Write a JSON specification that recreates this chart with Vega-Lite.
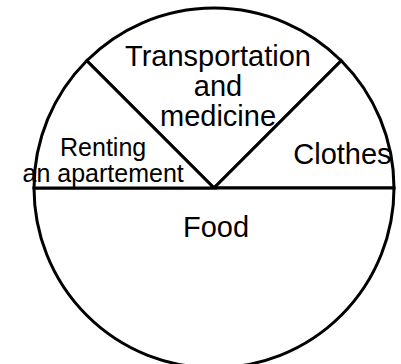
{
  "$schema": "https://vega.github.io/schema/vega-lite/v6.json",
  "width": 428,
  "height": 376,
  "padding": 0,
  "autosize": "none",
  "background": "white",
  "data": {
    "values": [
      {"category": "Transportation and medicine", "label": ["Transportation", "and", "medicine"], "percent": 25, "order": 1},
      {"category": "Clothes", "label": "Clothes", "percent": 12.5, "order": 2},
      {"category": "Food", "label": "Food", "percent": 50, "order": 3},
      {"category": "Renting an apartement", "label": ["Renting", "an apartement"], "percent": 12.5, "order": 4}
    ]
  },
  "encoding": {
    "theta": {"field": "percent", "type": "quantitative", "stack": true, "scale": {"range": [-0.7854, 5.4978]}},
    "order": {"field": "order", "type": "quantitative"}
  },
  "layer": [
    {"mark": {"type": "arc", "radius": 180, "fill": "white", "stroke": "black", "strokeWidth": 3}},
    {
      "mark": {"type": "text", "radius": 101, "dx": 4, "dy": -30, "fontSize": 29, "lineHeight": 30, "font": "Liberation Sans", "baseline": "middle", "align": "center", "color": "black"},
      "encoding": {"text": {"condition": {"test": "datum.category === 'Transportation and medicine'", "field": "label"}, "value": ""}}
    },
    {
      "mark": {"type": "text", "radius": 139, "dx": 0, "dy": 20, "fontSize": 29, "font": "Liberation Sans", "baseline": "middle", "align": "center", "color": "black"},
      "encoding": {"text": {"condition": {"test": "datum.category === 'Clothes'", "field": "label"}, "value": ""}}
    },
    {
      "mark": {"type": "text", "radius": 120, "dy": 6, "fontSize": 25, "lineHeight": 26, "font": "Liberation Sans", "baseline": "middle", "align": "center", "color": "black"},
      "encoding": {"text": {"condition": {"test": "datum.category === 'Renting an apartement'", "field": "label"}, "value": ""}}
    },
    {
      "mark": {"type": "text", "radius": 40, "dx": 2, "fontSize": 29, "font": "Liberation Sans", "baseline": "middle", "align": "center", "color": "black"},
      "encoding": {"text": {"condition": {"test": "datum.category === 'Food'", "field": "label"}, "value": ""}}
    }
  ],
  "config": {"view": {"stroke": null}}
}
